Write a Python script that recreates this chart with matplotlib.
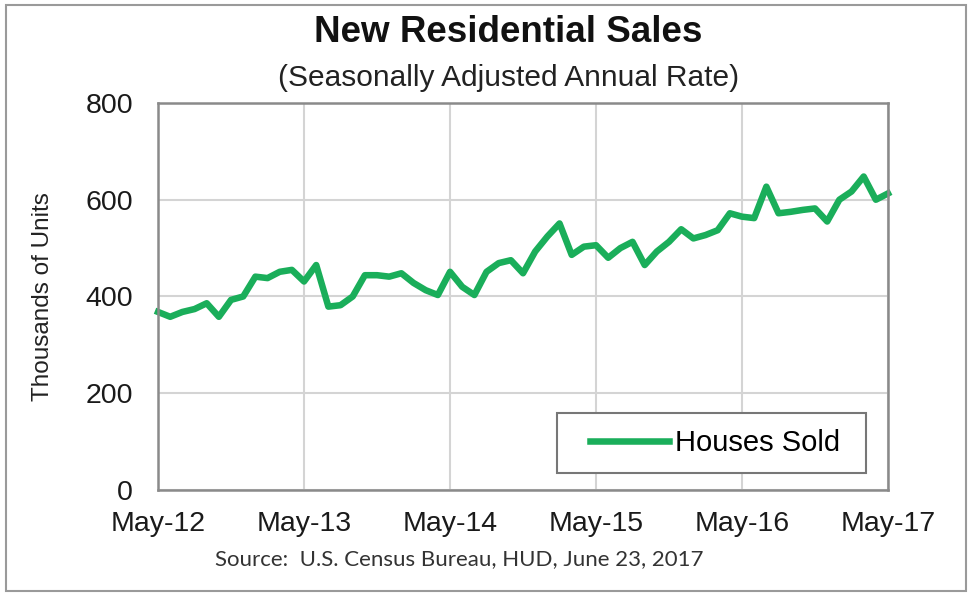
import matplotlib.pyplot as plt
from matplotlib.patches import Rectangle
import numpy as np

plt.rcParams['font.family'] = ['Liberation Sans', 'DejaVu Sans']

# Monthly new home sales, thousands of units (SAAR), May 2012 - May 2017
sales_2012 = [368, 358, 368, 374, 386, 358, 393, 400]
sales_2013 = [441, 438, 451, 455, 431, 465, 379, 382, 400, 444, 444, 441]
sales_2014 = [448, 428, 413, 403, 451, 420, 403, 451, 469, 475, 448, 493]
sales_2015 = [524, 551, 486, 503, 506, 480, 500, 513, 465, 493, 513, 539]
sales_2016 = [520, 527, 537, 572, 565, 562, 627, 572, 575, 579, 582, 555]
sales_2017 = [600, 617, 648, 600, 613]
houses_sold = sales_2012 + sales_2013 + sales_2014 + sales_2015 + sales_2016 + sales_2017

tick_labels = ["May-12", "May-13", "May-14", "May-15", "May-16", "May-17"]
y_ticks = [0, 200, 400, 600, 800]

months = np.arange(len(houses_sold))
green = "#1aae5a"

fig = plt.figure(figsize=(9.72, 5.96), dpi=100)
ax = fig.add_axes([0.1626, 0.1779, 0.751, 0.6493])

ax.plot(months, houses_sold, color=green, lw=4.7, solid_joinstyle="round",
        label="Houses Sold", clip_on=False)

ax.set_xlim(0, 60)
ax.set_ylim(0, 800)
ax.set_xticks(np.arange(0, 61, 12))
ax.set_xticklabels(tick_labels)
ax.set_yticks(y_ticks)
ax.tick_params(axis="both", length=0, labelsize=20.5, colors="#1a1a1a")
ax.tick_params(axis="x", pad=15)
ax.tick_params(axis="y", pad=18)
ax.grid(True, color="#d4d4d4", lw=1.5)
ax.set_axisbelow(True)
for s in ax.spines.values():
    s.set_color("#8a8a8a")
    s.set_linewidth(1.8)

ax.set_ylabel("Thousands of Units", fontsize=17.5, color="#222222")
ax.yaxis.set_label_coords(-0.142, 0.5)

# legend box drawn separately so the padding can be wider than tall
ax.add_patch(Rectangle((0.547, 0.044), 0.423, 0.155, transform=ax.transAxes,
                       facecolor="white", edgecolor="#777777", lw=1.5, zorder=4))
leg = ax.legend(loc="center left", bbox_to_anchor=(0.592, 0.121), fontsize=21,
                handlelength=2.7, handletextpad=0.2, borderpad=0,
                frameon=False, borderaxespad=0)
leg.set_zorder(5)

fig.text(0.523, 0.946, "New Residential Sales", ha="center", va="center",
         fontsize=26.5, fontweight="bold", color="#111111")
fig.text(0.523, 0.869, "(Seasonally Adjusted Annual Rate)", ha="center",
         va="center", fontsize=21.5, color="#222222")
fig.text(0.472, 0.062, "Source:  U.S. Census Bureau, HUD, June 23, 2017",
         ha="center", va="center", fontsize=16, color="#333333",
         family=["Lato", "DejaVu Sans"])

# outer border around the whole figure
fig.patches.append(Rectangle((0.006, 0.008), 0.988, 0.984, transform=fig.transFigure,
                             fill=False, edgecolor="#9a9a9a", lw=1.5))

fig.savefig("out.png", dpi=100)
